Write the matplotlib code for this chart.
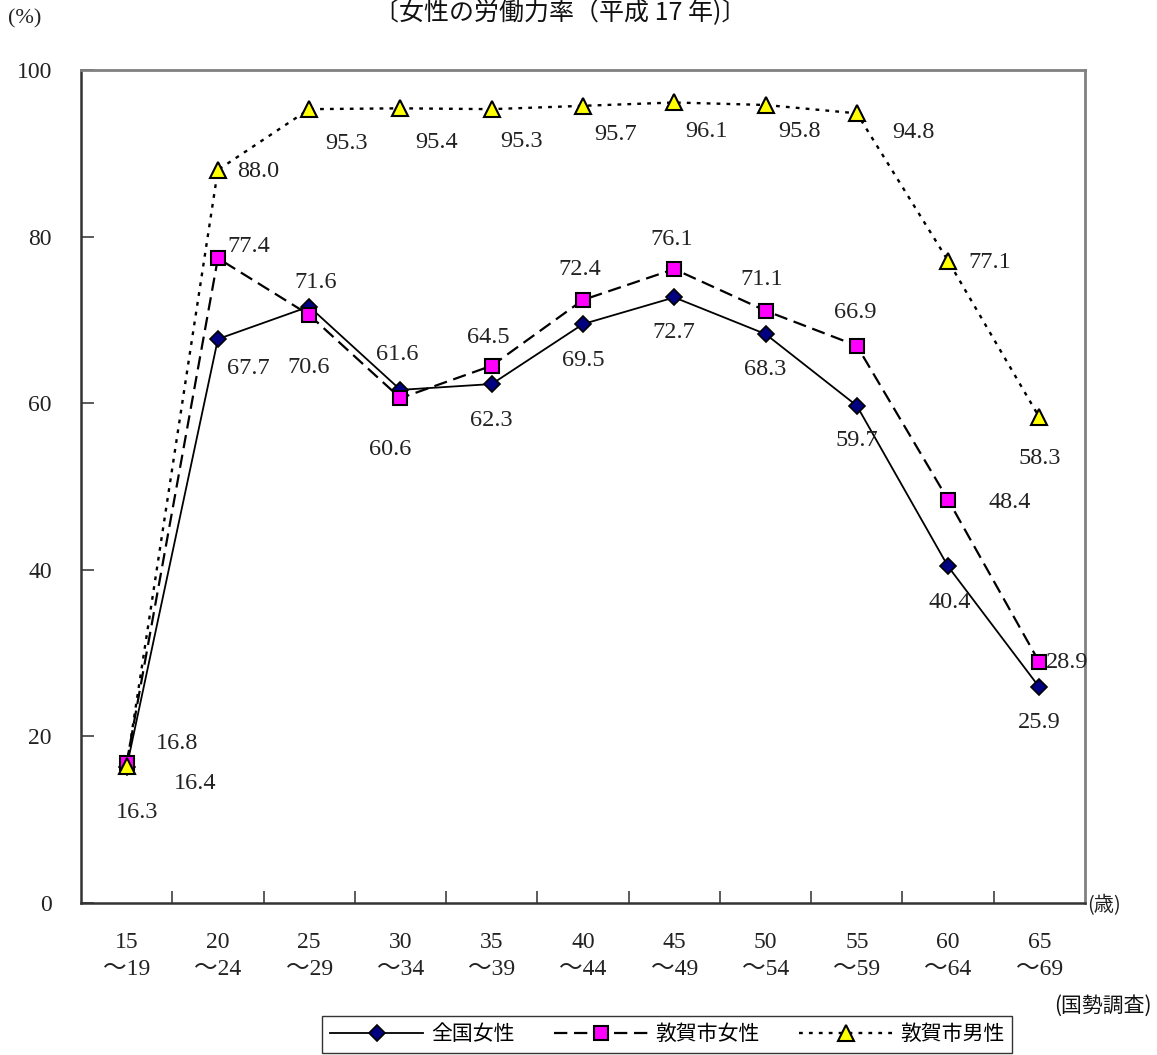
import matplotlib
matplotlib.use("Agg")
import matplotlib.pyplot as plt
from matplotlib.ticker import FixedLocator, NullFormatter

# ---------------- data ----------------
age_start = ["15", "20", "25", "30", "35", "40", "45", "50", "55", "60", "65"]
age_end = ["19", "24", "29", "34", "39", "44", "49", "54", "59", "64", "69"]
national_women = [16.3, 67.7, 71.6, 61.6, 62.3, 69.5, 72.7, 68.3, 59.7, 40.4, 25.9]
tsuruga_women = [16.8, 77.4, 70.6, 60.6, 64.5, 72.4, 76.1, 71.1, 66.9, 48.4, 28.9]
tsuruga_men = [16.4, 88.0, 95.3, 95.4, 95.3, 95.7, 96.1, 95.8, 94.8, 77.1, 58.3]
series_names = ["全国女性", "敦賀市女性", "敦賀市男性"]
yticks = [0, 20, 40, 60, 80, 100]
title_text = "〔女性の労働力率（平成 17 年)〕"

# label offsets in pixels (dx, dy) – styling only
off_nat = [(10, -45), (30, -29), (7, 24), (-3, 35), (0, -36), (0, -36),
           (0, -35), (0, -35), (0, -35), (2, -36), (0, -35)]
off_tw = [(50, 20), (31, 12), (-1, -53), (-10, -51), (-3, 28), (-3, 30),
          (-3, 30), (-4, 31), (-2, 33), (62, -3), (28, 0)]
off_tm = [(68, -17), (40, -2), (37, -34), (36, -34), (30, -32), (33, -29),
          (32, -29), (34, -27), (57, -19), (42, -2), (0, -41)]

SERIF = ["Liberation Serif", "Noto Sans CJK JP"]
JP = ["Noto Sans CJK JP", "DejaVu Sans"]

fig = plt.figure(figsize=(11.57, 10.55), dpi=100)
ax = fig.add_axes([81 / 1157, 1 - 903 / 1055, (1085 - 81) / 1157, (903 - 70) / 1055])

x = list(range(len(age_start)))

ax.plot(x, national_women, color="black", lw=1.3, linestyle="-",
        marker="D", markersize=8.5, markerfacecolor="#000080",
        markeredgecolor="black", markeredgewidth=1.2, label=series_names[0], zorder=3)
ax.plot(x, tsuruga_women, color="black", lw=1.6, linestyle=(0, (6, 3)),
        marker="s", markersize=10.5, markerfacecolor="#FF00FF",
        markeredgecolor="black", markeredgewidth=1.5, label=series_names[1], zorder=4)
ax.plot(x, tsuruga_men, color="black", lw=1.7, linestyle=(0, (1.6, 2.6)),
        marker="^", markersize=11.5, markerfacecolor="#FFFF00",
        markeredgecolor="black", markeredgewidth=1.5, label=series_names[2], zorder=5)

for vals, offs in ((national_women, off_nat), (tsuruga_women, off_tw), (tsuruga_men, off_tm)):
    for i, (v, o) in enumerate(zip(vals, offs)):
        ax.annotate(f"{v:.1f}", (i, v), xytext=o, textcoords="offset pixels",
                    ha="center", va="center", fontsize=17.5, family=SERIF,
                    color="#222222", zorder=6)

ax.set_xlim(-0.5, len(x) - 0.5)
ax.set_ylim(0, 100)
ax.set_yticks(yticks)
ax.set_yticklabels([str(t) for t in yticks], family=SERIF, fontsize=17, color="#222222")
ax.tick_params(axis="y", direction="in", length=9, width=1.2, pad=21, color="#404040")

ax.set_xticks(x)
ax.set_xticklabels([f"{a}\n～{b}" for a, b in zip(age_start, age_end)],
                   family=SERIF, fontsize=17, color="#222222", linespacing=1.35)
ax.tick_params(axis="x", which="major", length=0, pad=21)
ax.xaxis.set_minor_locator(FixedLocator([i + 0.5 for i in range(len(x) - 1)]))
ax.xaxis.set_minor_formatter(NullFormatter())
ax.tick_params(axis="x", which="minor", direction="in", length=9, width=1.2, color="#404040")

for side in ("left", "bottom"):
    ax.spines[side].set_color("#333333")
    ax.spines[side].set_linewidth(1.8)
for side in ("top", "right"):
    ax.spines[side].set_color("#808080")
    ax.spines[side].set_linewidth(2)

fig.text(1087 / 1157, 1 - 906 / 1055, "(歳)",
         family=JP, fontsize=14.5, ha="left", va="center", color="#222222")
fig.text(8 / 1157, 1 - 19 / 1055, "(%)", family=SERIF, fontsize=16,
         ha="left", va="center", color="#222222")
fig.text(560 / 1157, 1 - 13 / 1055, title_text, family=JP, fontsize=18,
         ha="center", va="center", color="#111111")
fig.text(1152 / 1157, 1 - 1006 / 1055, "(国勢調査)", family=JP, fontsize=15,
         ha="right", va="center", color="#111111")

leg = fig.legend(loc="upper center", bbox_to_anchor=(667 / 1157, 1 - 1016 / 1055),
                 ncol=3, frameon=True, fancybox=False, edgecolor="black",
                 prop={"family": JP, "size": 15}, handlelength=4.5,
                 columnspacing=1.9, handletextpad=0.35, borderpad=0.35,
                 borderaxespad=0)
leg.get_frame().set_linewidth(1.0)

fig.savefig("out.png", dpi=100)
